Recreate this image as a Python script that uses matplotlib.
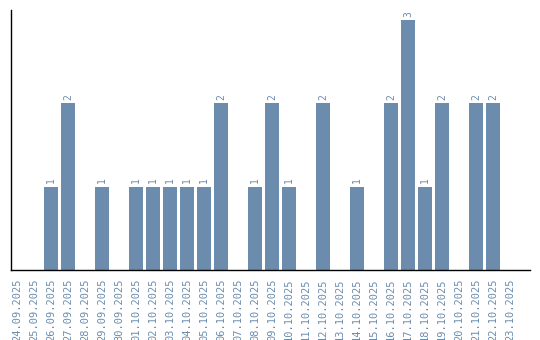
import matplotlib
matplotlib.use("Agg")
import matplotlib.pyplot as plt

dates = ["24.09.2025", "25.09.2025", "26.09.2025", "27.09.2025", "28.09.2025",
         "29.09.2025", "30.09.2025", "01.10.2025", "02.10.2025", "03.10.2025",
         "04.10.2025", "05.10.2025", "06.10.2025", "07.10.2025", "08.10.2025",
         "09.10.2025", "10.10.2025", "11.10.2025", "12.10.2025", "13.10.2025",
         "14.10.2025", "15.10.2025", "16.10.2025", "17.10.2025", "18.10.2025",
         "19.10.2025", "20.10.2025", "21.10.2025", "22.10.2025", "23.10.2025"]
counts = [0, 0, 1, 2, 0, 1, 0, 1, 1, 1, 1, 1, 2, 0, 1, 2, 1, 0, 2, 0,
          1, 0, 2, 3, 1, 2, 0, 2, 2, 0]

color = "#6b8cad"
fig = plt.figure(figsize=(5.4, 3.4), dpi=100)
ax = fig.add_axes([11/540, 70/340, 519/540, 260/340])
x = list(range(len(dates)))
bars = ax.bar(x, counts, width=0.82, color=color)
for xi, v in zip(x, counts):
    if v > 0:
        ax.text(xi, v + 0.04, str(v), rotation=90, ha="center", va="bottom",
                fontsize=7, color=color, family="DejaVu Sans Mono")
ax.set_xlim(-0.35, 30.18)
ax.set_ylim(0, 3.12)
ax.set_xticks(x)
ax.set_xticklabels(dates, rotation=90, fontsize=7.5, color=color, family="DejaVu Sans Mono")
ax.tick_params(axis="x", length=0, pad=6)
ax.set_yticks([])
for s in ["top", "right"]:
    ax.spines[s].set_visible(False)
for s in ["left", "bottom"]:
    ax.spines[s].set_color("black")
    ax.spines[s].set_linewidth(1)
fig.savefig("out.png", dpi=100)
